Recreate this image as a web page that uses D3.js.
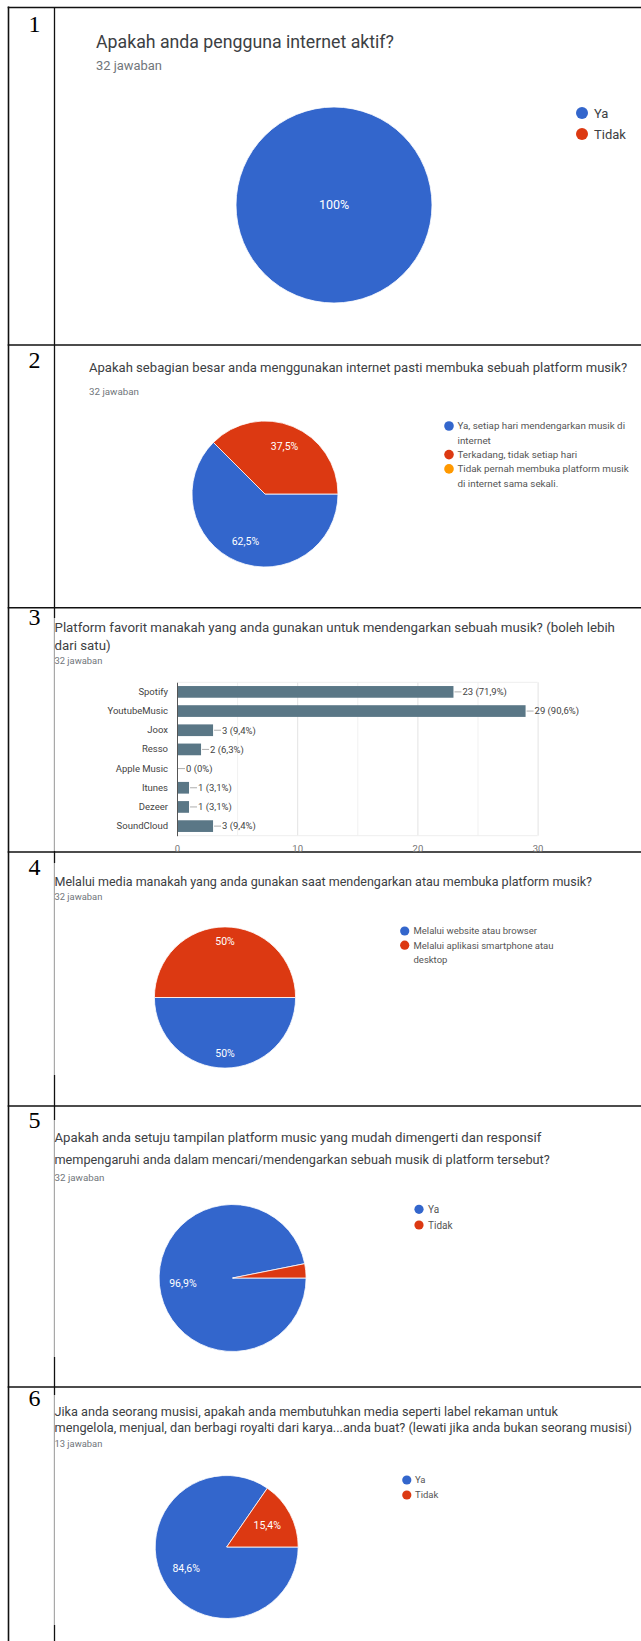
<!DOCTYPE html>
<html>
<head>
<meta charset="utf-8">
<script src="https://cdn.jsdelivr.net/npm/d3@7"></script>
<style>
  body { margin: 0; background: #fff; }
  svg { display: block; }
</style>
</head>
<body>
<div id="chart"></div>
<script>
const rowNumbers = ["1", "2", "3", "4", "5", "6"];

const q1Title = ["Apakah anda pengguna internet aktif?"];
const q1Answers = "32 jawaban";
const q1Labels = ["Ya", "Tidak"];
const q1Values = [32, 0];

const q2Title = ["Apakah sebagian besar anda menggunakan internet pasti membuka sebuah platform musik?"];
const q2Answers = "32 jawaban";
const q2Labels = ["Ya, setiap hari mendengarkan musik di internet", "Terkadang, tidak setiap hari", "Tidak pernah membuka platform musik di internet sama sekali."];
const q2Values = [20, 12, 0];

const q3Title = ["Platform favorit manakah yang anda gunakan untuk mendengarkan sebuah musik? (boleh lebih", "dari satu)"];
const q3Answers = "32 jawaban";
const q3Categories = ["Spotify", "YoutubeMusic", "Joox", "Resso", "Apple Music", "Itunes", "Dezeer", "SoundCloud"];
const q3Values = [23, 29, 3, 2, 0, 1, 1, 3];
const q3Ticks = [0, 10, 20, 30];

const q4Title = ["Melalui media manakah yang anda gunakan saat mendengarkan atau membuka platform musik?"];
const q4Answers = "32 jawaban";
const q4Labels = ["Melalui website atau browser", "Melalui aplikasi smartphone atau desktop"];
const q4Values = [16, 16];

const q5Title = ["Apakah anda setuju tampilan platform music yang mudah dimengerti dan responsif", "mempengaruhi anda dalam mencari/mendengarkan sebuah musik di platform tersebut?"];
const q5Answers = "32 jawaban";
const q5Labels = ["Ya", "Tidak"];
const q5Values = [31, 1];

const q6Title = ["Jika anda seorang musisi, apakah anda membutuhkan media seperti label rekaman untuk", "mengelola, menjual, dan berbagi royalti dari karya...anda buat? (lewati jika anda bukan seorang musisi)"];
const q6Answers = "13 jawaban";
const q6Labels = ["Ya", "Tidak"];
const q6Values = [11, 2];

const pieColors = ["#3366cc", "#dc3912", "#ff9900"];
const barColor = "#5a7786";

const sans = "Roboto, 'Noto Sans', Arial, sans-serif";
const serif = "'Liberation Serif', 'Times New Roman', serif";

const W = 641, H = 1641;
const svg = d3.select("#chart").append("svg").attr("width", W).attr("height", H);

// comma decimal like the google forms screenshot
function pct(v, total) {
    const p = Math.round(v / total * 1000) / 10;
    return String(p).replace(".", ",") + "%";
}

// set font-size so the text is exactly `width` wide
function fit(text, width) {
    const base = parseFloat(text.attr("font-size"));
    const w = text.node().getComputedTextLength();
    if (w > 0) text.attr("font-size", base * width / w);
}

function drawTitle(lines, answers, t) {
    let size = t.size;
    lines.forEach((line, i) => {
        const txt = svg.append("text")
            .attr("x", t.x).attr("y", t.ys[i])
            .attr("font-family", sans).attr("font-size", size)
            .attr("fill", "#3c4043")
            .text(line);
        if (t.ws[i]) {
            fit(txt, t.ws[i]);
            size = txt.attr("font-size");
        }
    });
    const sub = svg.append("text")
        .attr("x", t.x).attr("y", t.subY)
        .attr("font-family", sans).attr("font-size", 10)
        .attr("fill", "#70757a")
        .text(answers);
    fit(sub, t.subW);
}

function drawPie(labels, values, p) {
    const total = d3.sum(values);
    const pie = d3.pie().sort(null).value(d => d)
        .startAngle(Math.PI / 2).endAngle(Math.PI / 2 + 2 * Math.PI);
    const arcs = pie(values);
    const arc = d3.arc().innerRadius(0).outerRadius(p.r);
    const labelArc = d3.arc().innerRadius(p.r * p.lf).outerRadius(p.r * p.lf);

    const g = svg.append("g").attr("transform", `translate(${p.cx},${p.cy})`);
    g.selectAll("path")
        .data(arcs.filter(d => d.value > 0))
        .join("path")
        .attr("d", arc)
        .attr("fill", d => pieColors[d.index])
        .attr("stroke", "#fff")
        .attr("stroke-width", 0.8);

    g.selectAll("text")
        .data(arcs.filter(d => d.value / total >= 0.05))
        .join("text")
        .attr("transform", d => {
            const c = d.value === total ? [0, 0] : labelArc.centroid(d);
            return `translate(${c[0]},${c[1]})`;
        })
        .attr("dy", "0.35em")
        .attr("text-anchor", "middle")
        .attr("font-family", sans)
        .attr("font-size", p.fs)
        .attr("fill", "#fff")
        .text(d => pct(d.value, total));

    // legend
    const lg = p.legend;
    let y = lg.y;
    labels.forEach((lab, i) => {
        svg.append("circle")
            .attr("cx", lg.x).attr("cy", y).attr("r", lg.r)
            .attr("fill", pieColors[i]);
        // simple word wrap
        const words = lab.split(" ");
        let line = [];
        let t = svg.append("text").attr("x", lg.tx).attr("y", y).attr("dy", "0.35em")
            .attr("font-family", sans).attr("font-size", lg.fs).attr("fill", lg.color);
        words.forEach(w => {
            line.push(w);
            t.text(line.join(" "));
            if (t.node().getComputedTextLength() > lg.wrap && line.length > 1) {
                line.pop();
                t.text(line.join(" "));
                line = [w];
                y += lg.lh;
                t = svg.append("text").attr("x", lg.tx).attr("y", y).attr("dy", "0.35em")
                    .attr("font-family", sans).attr("font-size", lg.fs).attr("fill", lg.color)
                    .text(w);
            }
        });
        y += lg.lh;
    });
}

function drawBars(categories, values, ticks, b) {
    const total = 32;
    const x = d3.scaleLinear().domain([0, 30]).range([b.x0, b.x1]);
    const y = d3.scaleBand().domain(categories).range([b.y0, b.y1])
        .paddingInner(0.39).paddingOuter(0.195);

    const g = svg.append("g");

    // grid
    g.append("g")
        .attr("transform", `translate(0,${b.y1})`)
        .call(d3.axisBottom(x).tickValues(d3.range(0, 31, 5)).tickSize(-(b.y1 - b.y0)).tickFormat(""))
        .call(s => s.select(".domain").remove())
        .call(s => s.selectAll("line").attr("stroke", d => d % 10 === 0 ? "#e3e3e3" : "#f1f1f1"));
    g.append("line").attr("x1", b.x0).attr("x2", b.x1).attr("y1", b.y0).attr("y2", b.y0).attr("stroke", "#eeeeee");
    g.append("line").attr("x1", b.x0).attr("x2", b.x1).attr("y1", b.y1).attr("y2", b.y1).attr("stroke", "#eeeeee");

    // tick labels
    g.append("g")
        .attr("transform", `translate(0,${b.y1})`)
        .call(d3.axisBottom(x).tickValues(ticks).tickSize(0).tickPadding(10))
        .call(s => s.select(".domain").remove())
        .call(s => s.selectAll("text").attr("font-family", sans).attr("font-size", 9.5).attr("fill", "#757575"));

    // bars
    g.selectAll("rect.bar")
        .data(values)
        .join("rect")
        .attr("class", "bar")
        .attr("x", x(0))
        .attr("y", (d, i) => y(categories[i]))
        .attr("width", d => x(d) - x(0))
        .attr("height", y.bandwidth())
        .attr("fill", barColor);

    // category axis
    g.append("g")
        .attr("transform", `translate(${b.x0},0)`)
        .call(d3.axisLeft(y).tickSize(0).tickPadding(9))
        .call(s => s.select(".domain").attr("stroke", "#555").attr("stroke-width", 1))
        .call(s => s.selectAll("text").attr("font-family", sans).attr("font-size", 9.5).attr("fill", "#444"));

    // value labels with leader line
    values.forEach((v, i) => {
        const cy = y(categories[i]) + y.bandwidth() / 2;
        g.append("line")
            .attr("x1", x(v) + 1).attr("x2", x(v) + 8)
            .attr("y1", cy).attr("y2", cy)
            .attr("stroke", "#999").attr("stroke-width", 0.8);
        g.append("text")
            .attr("x", x(v) + 9).attr("y", cy).attr("dy", "0.35em")
            .attr("font-family", sans).attr("font-size", 9.5).attr("fill", "#444")
            .text(`${v} (${pct(v, total)})`);
    });
}

// table frame
const rowTops = [7.5, 345, 607.7, 852, 1106, 1387];
const numBaselines = [31.5, 368, 625, 875, 1128, 1406];

svg.append("line").attr("x1", 8.5).attr("x2", 8.5).attr("y1", 6.5).attr("y2", H)
    .attr("stroke", "#111").attr("stroke-width", 1.6);
svg.append("line").attr("x1", 54.5).attr("x2", 54.5).attr("y1", 7.5).attr("y2", H)
    .attr("stroke", "#111").attr("stroke-width", 1.3);
rowTops.forEach(t => {
    svg.append("line").attr("x1", 7.7).attr("x2", W).attr("y1", t).attr("y2", t)
        .attr("stroke", "#111").attr("stroke-width", 1.6);
});
// the pasted screenshots cover the divider with their own light edge
[[618, 851], [863, 1075], [1120, 1357], [1395, 1625]].forEach(s => {
    svg.append("rect").attr("x", 53.5).attr("y", s[0]).attr("width", 2.5).attr("height", s[1] - s[0]).attr("fill", "#fff");
    svg.append("line").attr("x1", 54.5).attr("x2", 54.5).attr("y1", s[0]).attr("y2", s[1])
        .attr("stroke", "#a8a8a8").attr("stroke-width", 1);
});
rowNumbers.forEach((n, i) => {
    svg.append("text")
        .attr("x", 34.5).attr("y", numBaselines[i])
        .attr("text-anchor", "middle")
        .attr("font-family", serif).attr("font-size", 24).attr("fill", "#000")
        .text(n);
});

// 1
drawTitle(q1Title, q1Answers, { x: 96, ys: [48], ws: [298], size: 17, subY: 69.5, subW: 66 });
drawPie(q1Labels, q1Values, {
    cx: 334, cy: 205, r: 98, lf: 0.7, fs: 12.5,
    legend: { x: 582, tx: 594, y: 113, lh: 21, r: 6, fs: 13, wrap: 200, color: "#3c4043" }
});

// 2
drawTitle(q2Title, q2Answers, { x: 89, ys: [371.5], ws: [538.5], size: 13, subY: 395, subW: 50 });
drawPie(q2Labels, q2Values, {
    cx: 265, cy: 494, r: 73, lf: 0.7, fs: 10.5,
    legend: { x: 449, tx: 457.5, y: 426, lh: 14.3, r: 4.8, fs: 9.8, wrap: 172, color: "#555" }
});

// 3
drawTitle(q3Title, q3Answers, { x: 54.5, ys: [632, 650], ws: [561], size: 13, subY: 664, subW: 48 });
drawBars(q3Categories, q3Values, q3Ticks, { x0: 177, x1: 537.6, y0: 682.3, y1: 835.7 });

// 4
drawTitle(q4Title, q4Answers, { x: 54.5, ys: [886], ws: [538.4], size: 13, subY: 900, subW: 48 });
drawPie(q4Labels, q4Values, {
    cx: 225, cy: 997.5, r: 70.6, lf: 0.79, fs: 10.5,
    legend: { x: 404.7, tx: 413.5, y: 931, lh: 14.2, r: 4.6, fs: 9.5, wrap: 145, color: "#555" }
});

// 5
drawTitle(q5Title, q5Answers, { x: 54.5, ys: [1142, 1164], ws: [487, 495.4], size: 13, subY: 1180.5, subW: 50 });
drawPie(q5Labels, q5Values, {
    cx: 232.6, cy: 1278, r: 73.5, lf: 0.68, fs: 10.5,
    legend: { x: 419, tx: 428, y: 1209.3, lh: 15.7, r: 4.6, fs: 10, wrap: 145, color: "#555" }
});

// 6
drawTitle(q6Title, q6Answers, { x: 54.5, ys: [1415.5, 1432], ws: [504, 577], size: 12, subY: 1447, subW: 48 });
drawPie(q6Labels, q6Values, {
    cx: 226.7, cy: 1547, r: 71.5, lf: 0.64, fs: 10.5,
    legend: { x: 406.8, tx: 415, y: 1480, lh: 15, r: 4.6, fs: 9.5, wrap: 145, color: "#555" }
});
</script>
</body>
</html>
